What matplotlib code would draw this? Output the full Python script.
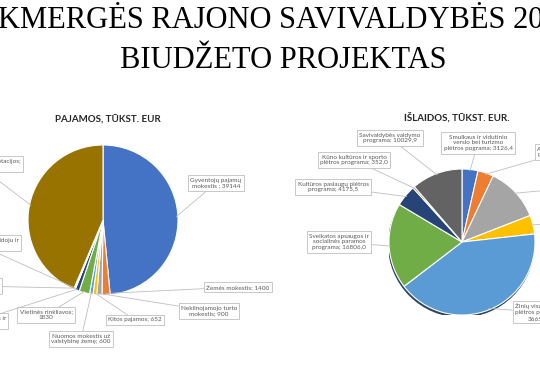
import matplotlib.pyplot as plt
import numpy as np
from matplotlib.patches import Circle

W, H = 540, 380

# --- data ---
inc_labels = ["Gyventojų pajamų\nmokestis ; 39144", "Žemės mokestis; 1400",
              "Nekilnojamojo turto\nmokestis; 900", "Kitos pajamos; 652",
              "Nuomos mokestis už\nvalstybinę žemę; 600", "Vietinės rinkliavos;\n1830",
              "Pajamos už prekes ir\npaslaugas; 750", "Pajamos iš baudų ir\nkonfiskacijos; 60",
              "Pajamos už turtą, kurį valdoju ir\nnaudoju; 200",
              "Specialiosios tikslinės dotacijos;\n35212"]
inc_values = [39144, 1400, 900, 652, 600, 1830, 750, 60, 200, 35212]

exp_labels = ["Smulkaus ir vidutinio\nverslo bei turizmo\nplėtros pograma; 3126,4",
              "Aplinkos apsaugos\nprograma; 3100,0",
              "Ūkio plėtros\nprograma; 10700,0",
              "Teritorijų planavimo\nprograma; 3670,0",
              "Žinių visuomenės\nplėtros programa;\n36650,7",
              "Sveikatos apsaugos ir\nsocialinės paramos\nprograma; 16806,0",
              "Kultūros paslaugų plėtros\nprograma; 4175,5",
              "Kūno kultūros ir sporto\nplėtros programa; 352,0",
              "Savivaldybės valdymo\nprograma; 10029,9"]
exp_values = [3126.4, 3100.0, 10700.0, 3670.0, 36650.7, 16806.0, 4175.5, 352.0, 10029.9]

palette = ["#4472C4", "#ED7D31", "#A5A5A5", "#FFC000", "#5B9BD5",
           "#70AD47", "#264478", "#9E480E", "#636363", "#997300"]

# label box positions in pixels (x, y from top, horizontal alignment)
inc_pos = [(216, 183, "center"), (238, 287, "center"), (209, 311, "center"),
           (135, 320, "center"), (81, 339, "center"), (46, 315, "center"),
           (6, 321, "right"), (0, 286, "right"), (19, 243, "right"), (21, 164, "right")]
exp_pos = [(478, 143, "center"), (537, 152, "left"), (545, 188, "left"),
           (545, 222, "left"), (515, 312, "left"), (339, 242, "center"),
           (333, 187, "center"), (354, 160, "center"), (390, 138, "center")]

plt.rcParams['font.family'] = ['Lato', 'DejaVu Sans']
fig = plt.figure(figsize=(W / 100, H / 100), dpi=100)
fig.patch.set_facecolor("white")


def pie_axes(cx, cy, r):
    ax = fig.add_axes([(cx - r) / W, 1 - (cy + r) / H, 2 * r / W, 2 * r / H])
    ax.set_xlim(-1, 1)
    ax.set_ylim(-1, 1)
    ax.axis("off")
    return ax


def draw_pie(ax, values, labels, pos, shadow=False):
    if shadow:
        ax.add_patch(Circle((-0.01, -0.03), 0.995, color="#2b4563", zorder=0))
    wedges, _ = ax.pie(values, colors=palette[:len(values)], startangle=90,
                       counterclock=False, radius=1,
                       wedgeprops=dict(edgecolor="white", linewidth=0.8))
    ax.set_xlim(-1, 1)
    ax.set_ylim(-1, 1)
    for w, lab, (px, py, ha) in zip(wedges, labels, pos):
        mid = np.deg2rad((w.theta1 + w.theta2) / 2)
        ax.annotate(lab, xy=(np.cos(mid) * 0.98, np.sin(mid) * 0.98),
                    xytext=(px, H - py), textcoords="figure pixels",
                    ha=ha, va="center", multialignment="center",
                    fontsize=4.6, color="#595959", annotation_clip=False,
                    bbox=dict(boxstyle="square,pad=0.35", fc="white",
                              ec="#BFBFBF", lw=0.6),
                    arrowprops=dict(arrowstyle="-", color="#BFBFBF", lw=0.6,
                                    shrinkA=0, shrinkB=0))


ax1 = pie_axes(103, 220, 75)
draw_pie(ax1, inc_values, inc_labels, inc_pos)

ax2 = pie_axes(462, 242, 73)
draw_pie(ax2, exp_values, exp_labels, exp_pos, shadow=True)

# titles
fig.text(108 / W, 1 - 120 / H, "PAJAMOS, TŪKST. EUR", ha="center", va="center",
         fontsize=7, fontweight="bold", color="#262626")
fig.text(457 / W, 1 - 117 / H, "IŠLAIDOS, TŪKST. EUR.", ha="center", va="center",
         fontsize=7, fontweight="bold", color="#262626")

fig.text(-24 / W, 1 - 20 / H, "UKMERGĖS RAJONO SAVIVALDYBĖS 2017 M.", ha="left",
         va="center", fontsize=22, family="Liberation Serif", color="black")
fig.text(283 / W, 1 - 60 / H, "BIUDŽETO PROJEKTAS", ha="center", va="center",
         fontsize=22, family="Liberation Serif", color="black")

fig.savefig("out.png", dpi=100)
